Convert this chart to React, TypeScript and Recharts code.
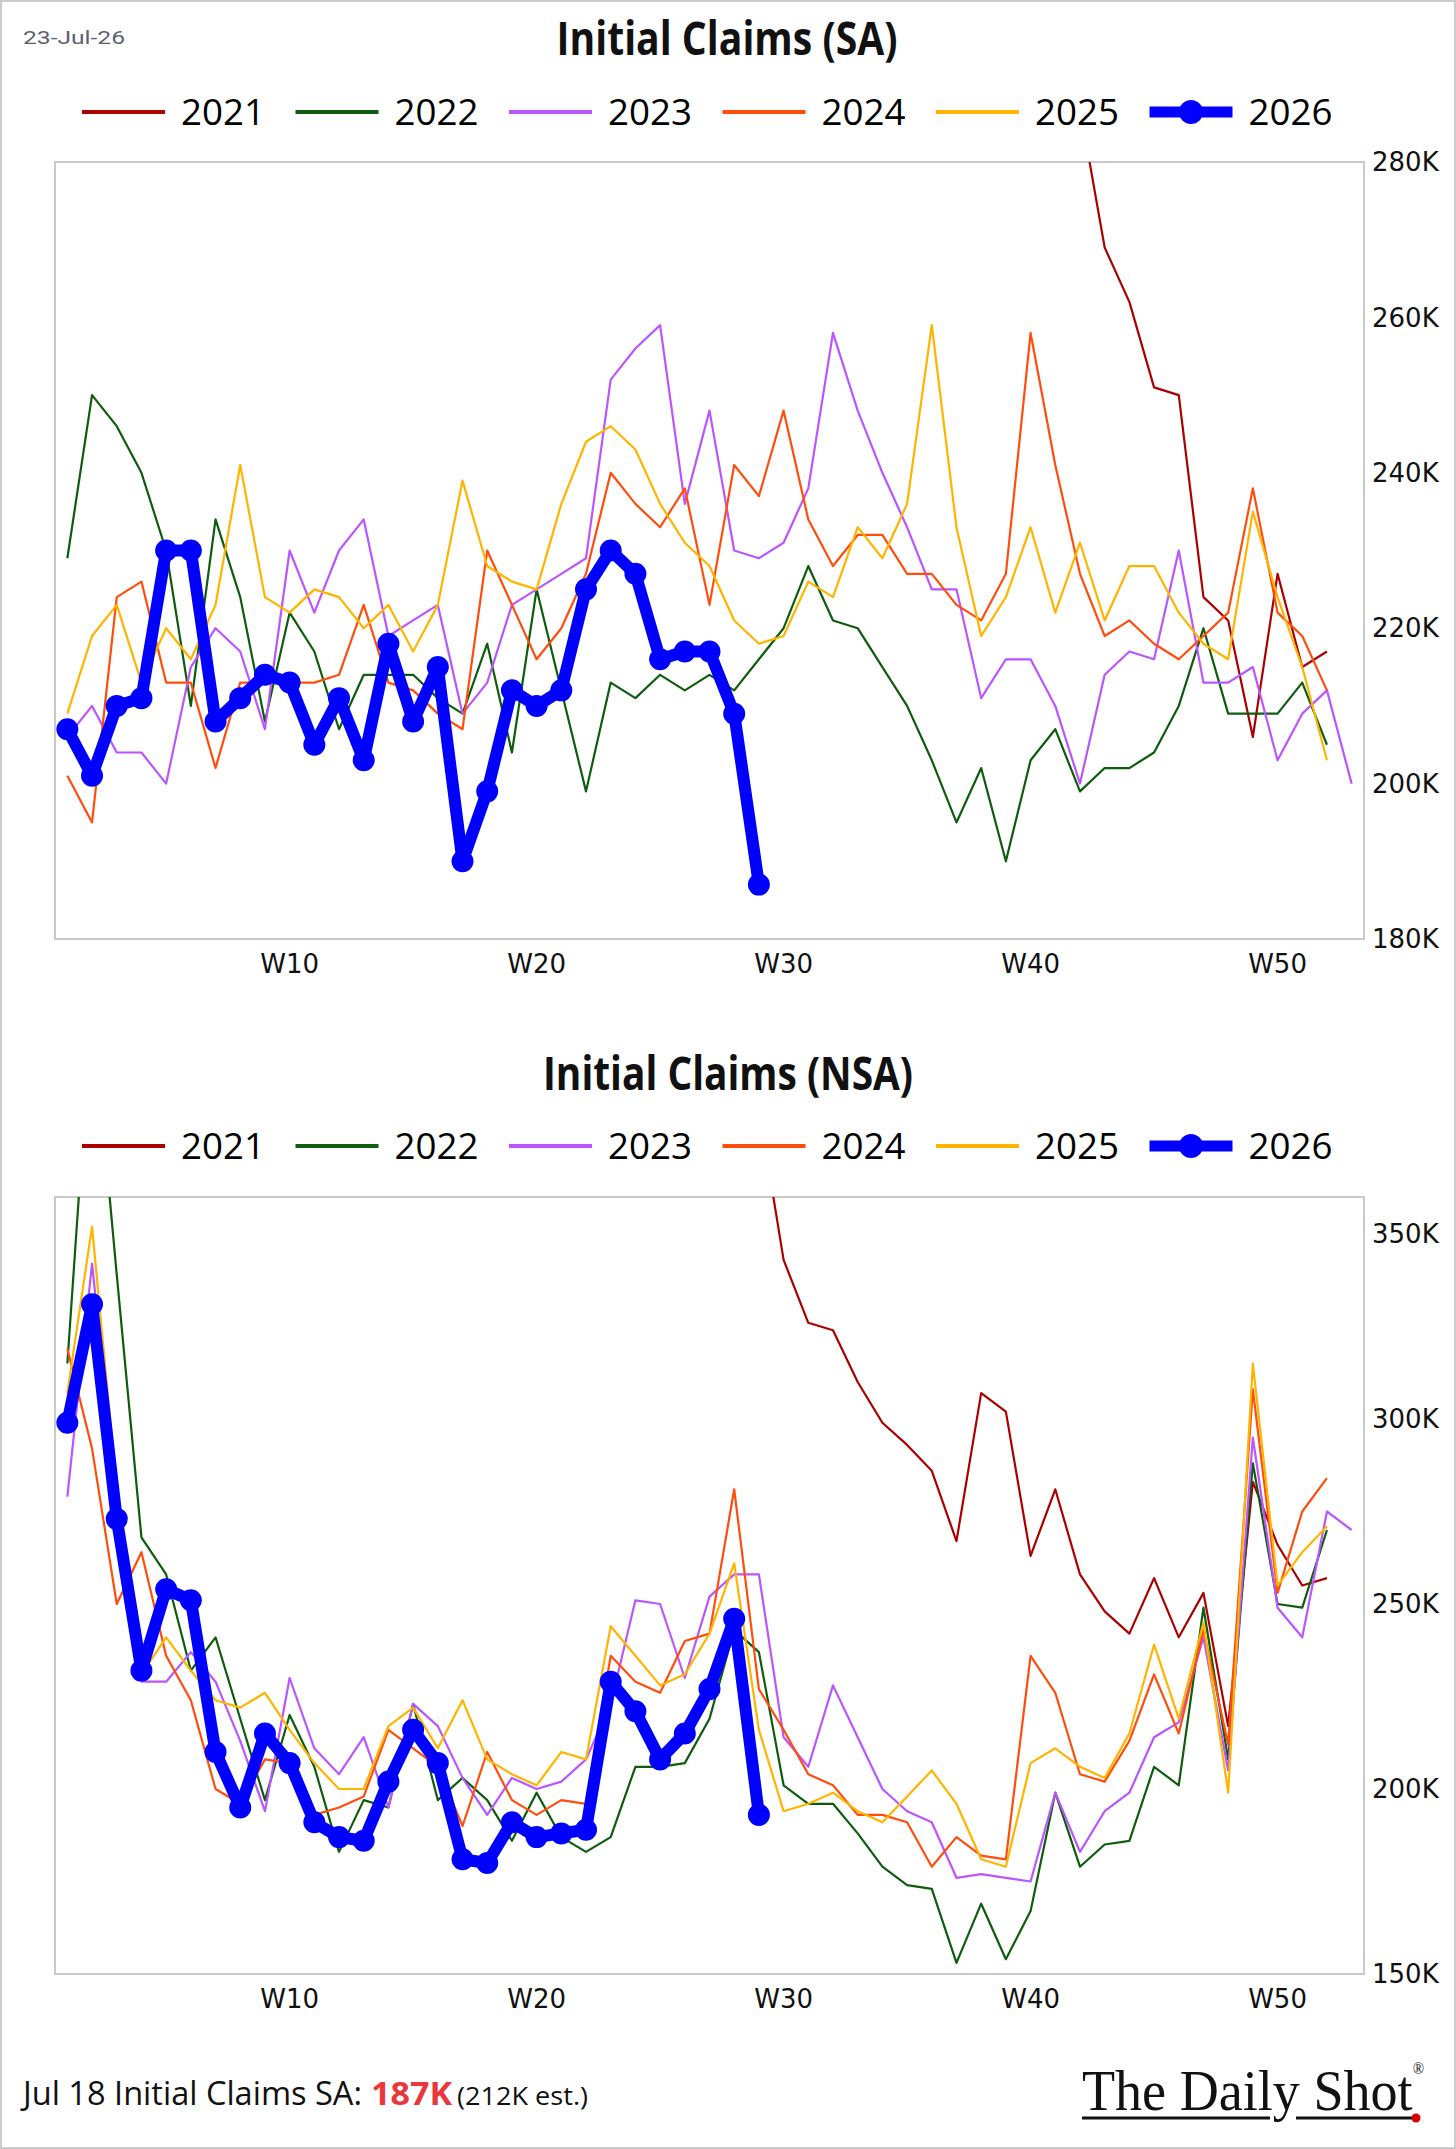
import React from 'react';
import { LineChart, Line, XAxis, YAxis, ReferenceArea } from 'recharts';

// Week numbers along the x axis
const WEEKS: number[] = [
  1, 2, 3, 4, 5, 6, 7, 8, 9, 10, 11, 12, 13, 14, 15, 16, 17, 18, 19, 20,
  21, 22, 23, 24, 25, 26, 27, 28, 29, 30, 31, 32, 33, 34, 35, 36, 37, 38, 39, 40,
  41, 42, 43, 44, 45, 46, 47, 48, 49, 50, 51, 52, 53,
];
const WEEK_TICKS = [10, 20, 30, 40, 50];

const YEARS = ['2021', '2022', '2023', '2024', '2025', '2026'];
const YEAR_COLORS = ['#AA0000', '#0E5C0E', '#BB55FF', '#FF4D0D', '#FFB400', '#0000FF'];

// ---- Initial claims, seasonally adjusted (thousands) ----
const SA_2021_START = 42;
const SA_2021 = [287, 269, 262, 251, 250, 224, 221, 206, 227, 215, 217];
const SA_2022 = [
  229, 250, 246, 240, 230, 210, 234, 224, 208, 222, 217, 207, 214, 214, 214, 211, 209, 218, 204, 225,
  212, 199, 213, 211, 214, 212, 214, 212, 216, 220, 228, 221, 220, 215, 210, 203, 195, 202, 190, 203,
  207, 199, 202, 202, 204, 210, 220, 209, 209, 209, 213, 205,
];
const SA_2023 = [
  206, 210, 204, 204, 200, 215, 220, 217, 207, 230, 222, 230, 234, 219, 221, 223, 209, 213, 223, 225,
  227, 229, 252, 256, 259, 236, 248, 230, 229, 231, 238, 258, 248, 240, 233, 225, 225, 211, 216, 216,
  210, 200, 214, 217, 216, 230, 213, 213, 215, 203, 209, 212, 200,
];
const SA_2024 = [
  201, 195, 224, 226, 213, 213, 202, 213, 213, 213, 213, 214, 223, 213, 212, 209, 207, 230, 223, 216,
  220, 227, 240, 236, 233, 238, 223, 241, 237, 248, 234, 228, 232, 232, 227, 227, 223, 221, 227, 258,
  241, 227, 219, 221, 218, 216, 219, 222, 238, 222, 219, 212,
];
const SA_2025 = [
  209, 219, 223, 213, 220, 216, 223, 241, 224, 222, 225, 224, 220, 223, 217, 223, 239, 228, 226, 225,
  236, 244, 246, 243, 236, 231, 228, 221, 218, 219, 226, 224, 233, 229, 236, 259, 233, 219, 224, 233,
  222, 231, 221, 228, 228, 222, 218, 216, 235, 224, 215, 203,
];
const SA_2026 = [
  207, 201, 210, 211, 230, 230, 208, 211, 214, 213, 205, 211, 203, 218, 208, 215, 190, 199, 212, 210,
  212, 225, 230, 227, 216, 217, 217, 209, 187,
];
const SA_DOMAIN: [number, number] = [180, 280];
const SA_TICKS = [180, 200, 220, 240, 260, 280];

// ---- Initial claims, not seasonally adjusted (thousands) ----
const NSA_2021_START = 29;
const NSA_2021 = [
  384, 343, 326, 324, 310, 299, 293, 286, 267, 307, 302, 263, 281, 258, 248, 242, 257, 241, 253, 217,
  283, 266, 255, 257,
];
const NSA_2022 = [
  315, 412, 339, 268, 258, 232, 241, 219, 197, 220, 206, 183, 197, 195, 223, 197, 203, 197, 186, 199,
  187, 183, 187, 206, 206, 207, 219, 243, 237, 201, 196, 196, 188, 179, 174, 173, 153, 169, 154, 167,
  199, 179, 185, 186, 206, 201, 249, 208, 288, 250, 249, 270,
];
const NSA_2023 = [
  279, 342, 278, 229, 229, 237, 229, 213, 194, 230, 211, 204, 214, 195, 223, 217, 203, 193, 203, 200,
  202, 208, 223, 251, 250, 230, 252, 258, 258, 214, 206, 228, 214, 200, 194, 191, 176, 177, 176, 175,
  199, 183, 194, 199, 214, 218, 241, 205, 295, 249, 241, 275, 270,
];
const NSA_2024 = [
  319, 292, 250, 264, 236, 224, 200, 196, 208, 207, 193, 195, 198, 216, 211, 206, 190, 210, 197, 193,
  197, 196, 236, 229, 226, 240, 242, 281, 227, 216, 204, 201, 193, 193, 191, 179, 187, 182, 181, 236,
  226, 204, 202, 213, 231, 215, 243, 212, 308, 253, 275, 284,
];
const NSA_2025 = [
  307, 352, 281, 231, 241, 232, 224, 222, 226, 216, 207, 200, 200, 217, 222, 211, 224, 208, 204, 201,
  210, 208, 244, 236, 228, 231, 242, 261, 216, 194, 196, 199, 194, 191, 198, 205, 196, 181, 179, 207,
  211, 206, 203, 215, 239, 219, 245, 199, 315, 255, 264, 271,
];
const NSA_2026 = [
  299, 331, 273, 232, 254, 251, 210, 195, 215, 207, 191, 187, 186, 202, 216, 207, 181, 180, 191, 187,
  188, 189, 229, 221, 208, 215, 227, 246, 193,
];
const NSA_DOMAIN: [number, number] = [150, 360];
const NSA_TICKS = [150, 200, 250, 300, 350];

const LATEST_SA = SA_2026[SA_2026.length - 1];

type Series = { year: string; start: number; values: number[] };

function buildRows(series: Series[]) {
  return WEEKS.map((week) => {
    const row: Record<string, number | null> = { week };
    series.forEach((s) => {
      const i = week - s.start;
      row['y' + s.year] = i >= 0 && i < s.values.length ? s.values[i] : null;
    });
    return row;
  });
}

const SA_ROWS = buildRows([
  { year: '2021', start: SA_2021_START, values: SA_2021 },
  { year: '2022', start: 1, values: SA_2022 },
  { year: '2023', start: 1, values: SA_2023 },
  { year: '2024', start: 1, values: SA_2024 },
  { year: '2025', start: 1, values: SA_2025 },
  { year: '2026', start: 1, values: SA_2026 },
]);

const NSA_ROWS = buildRows([
  { year: '2021', start: NSA_2021_START, values: NSA_2021 },
  { year: '2022', start: 1, values: NSA_2022 },
  { year: '2023', start: 1, values: NSA_2023 },
  { year: '2024', start: 1, values: NSA_2024 },
  { year: '2025', start: 1, values: NSA_2025 },
  { year: '2026', start: 1, values: NSA_2026 },
]);

const TICK_STYLE = { fontSize: 26, fill: '#111', fontFamily: 'DejaVu Sans' };

type ChartProps = {
  rows: Record<string, number | null>[];
  domain: [number, number];
  ticks: number[];
  top: number;
  height: number;
  marginTop: number;
};

function ClaimsChart({ rows, domain, ticks, top, height, marginTop }: ChartProps) {
  return (
    <div style={{ position: 'absolute', left: 0, top }}>
      <LineChart
        width={1456}
        height={height}
        data={rows}
        margin={{ top: marginTop, right: 12, bottom: 0, left: 55 }}
      >
        <XAxis
          dataKey="week"
          type="number"
          domain={[0.5, 53.5]}
          ticks={WEEK_TICKS}
          interval={0}
          allowDataOverflow
          tickFormatter={(v: number) => `W${v}`}
          axisLine={false}
          tickLine={false}
          tickMargin={10}
          height={50}
          tick={TICK_STYLE}
        />
        <YAxis
          orientation="right"
          type="number"
          domain={domain}
          ticks={ticks}
          interval={0}
          allowDataOverflow
          width={80}
          axisLine={false}
          tickLine={false}
          tickFormatter={(v: number) => `${v}K`}
          tick={TICK_STYLE}
        />
        <ReferenceArea
          x1={0.5}
          x2={53.5}
          y1={domain[0]}
          y2={domain[1]}
          fill="none"
          stroke="#c9c9c9"
          strokeWidth={2}
        />
        {YEARS.slice(0, 5).map((yr, i) => (
          <Line
            key={yr}
            dataKey={'y' + yr}
            type="linear"
            stroke={YEAR_COLORS[i]}
            strokeWidth={2.2}
            strokeLinejoin="round"
            dot={false}
            activeDot={false}
            isAnimationActive={false}
          />
        ))}
        <Line
          dataKey="y2026"
          type="linear"
          stroke={YEAR_COLORS[5]}
          strokeWidth={12}
          strokeLinejoin="round"
          dot={{ r: 9, fill: YEAR_COLORS[5], stroke: YEAR_COLORS[5], strokeWidth: 4 }}
          activeDot={false}
          isAnimationActive={false}
        />
      </LineChart>
    </div>
  );
}

function LegendRow({ cy }: { cy: number }) {
  return (
    <g>
      {YEARS.map((yr, i) => {
        const x0 = 82 + i * 213.5;
        const color = YEAR_COLORS[i];
        const current = i === YEARS.length - 1;
        return (
          <g key={yr}>
            <line x1={x0} x2={x0 + 83} y1={cy} y2={cy} stroke={color} strokeWidth={current ? 11 : 4} />
            {current && <circle cx={x0 + 41.5} cy={cy} r={12} fill={color} />}
            <text
              x={x0 + 99}
              y={cy + 13}
              fontSize={37}
              fontFamily="Open Sans"
              fill="#000"
              textLength={84}
              lengthAdjust="spacingAndGlyphs"
            >
              {yr}
            </text>
          </g>
        );
      })}
    </g>
  );
}

function Overlay() {
  return (
    <svg
      width={1456}
      height={2149}
      style={{ position: 'absolute', left: 0, top: 0, pointerEvents: 'none' }}
    >
      <rect x={1} y={1} width={1454} height={2147} fill="none" stroke="#cccccc" strokeWidth={2} />
      <text
        x={23}
        y={44}
        fontSize={19}
        fontFamily="Roboto"
        fill="#5a6170"
        textLength={102}
        lengthAdjust="spacingAndGlyphs"
      >
        23-Jul-26
      </text>

      <text
        x={727}
        y={55}
        textAnchor="middle"
        fontFamily="Open Sans"
        fontWeight={700}
        fontSize={46}
        fill="#111"
        textLength={341}
        lengthAdjust="spacingAndGlyphs"
      >
        Initial Claims (SA)
      </text>
      <LegendRow cy={112} />

      <text
        x={728}
        y={1090}
        textAnchor="middle"
        fontFamily="Open Sans"
        fontWeight={700}
        fontSize={46}
        fill="#111"
        textLength={370}
        lengthAdjust="spacingAndGlyphs"
      >
        Initial Claims (NSA)
      </text>
      <LegendRow cy={1146} />

      <text
        x={23}
        y={2105}
        fontFamily="Open Sans"
        fontSize={32}
        fill="#111"
        textLength={339}
        lengthAdjust="spacingAndGlyphs"
      >
        Jul 18 Initial Claims SA:
      </text>
      <text
        x={371}
        y={2105}
        fontFamily="Open Sans"
        fontWeight={700}
        fontSize={32}
        fill="#E8383D"
        textLength={81}
        lengthAdjust="spacingAndGlyphs"
      >
        {`${LATEST_SA}K`}
      </text>
      <text
        x={457}
        y={2105}
        fontFamily="Open Sans"
        fontSize={25}
        fill="#111"
        textLength={131}
        lengthAdjust="spacingAndGlyphs"
      >
        (212K est.)
      </text>

      {/* Masthead logo with registered mark */}
      <text
        x={1082}
        y={2110}
        fontFamily="Liberation Serif"
        fontSize={58}
        fill="#111"
        textLength={342}
        lengthAdjust="spacingAndGlyphs"
      >
        The Daily Shot
        <tspan fontSize={16} dy={-36}>
          ®
        </tspan>
      </text>
      <line x1={1082} x2={1270} y1={2118} y2={2118} stroke="#111" strokeWidth={3} />
      <line x1={1296} x2={1414} y1={2118} y2={2118} stroke="#111" strokeWidth={3} />
      <circle cx={1416} cy={2118} r={4.5} fill="#d40000" />
    </svg>
  );
}

export default function App() {
  return (
    <div
      style={{
        position: 'absolute',
        left: 0,
        top: 0,
        width: 1456,
        height: 2149,
        background: '#fff',
        overflow: 'hidden',
      }}
    >
      <ClaimsChart rows={SA_ROWS} domain={SA_DOMAIN} ticks={SA_TICKS} top={0} height={989} marginTop={162} />
      <ClaimsChart rows={NSA_ROWS} domain={NSA_DOMAIN} ticks={NSA_TICKS} top={1100} height={924} marginTop={97} />
      <Overlay />
    </div>
  );
}
